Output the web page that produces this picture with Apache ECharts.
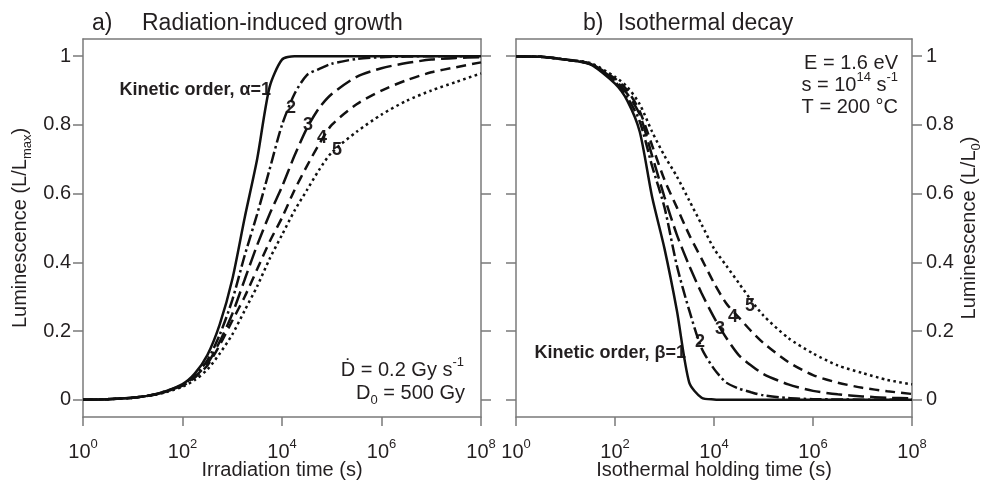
<!DOCTYPE html>
<html>
<head>
<meta charset="utf-8">
<title>Radiation-induced growth / Isothermal decay</title>
<script src="https://cdn.jsdelivr.net/npm/echarts@6.0.0/dist/echarts.min.js"></script>
<style>
  html, body { margin: 0; padding: 0; background: #fff; }
  #chart { width: 984px; height: 485px; }
</style>
</head>
<body>
<div id="chart"></div>
<script>
// log10 of time (s), shared by both panels
var logTime = [0, 0.5, 1, 1.5, 2, 2.25, 2.5, 2.75, 3, 3.25, 3.5, 3.75, 4, 4.25, 4.5, 4.75, 5, 5.5, 6, 6.5, 7, 7.5, 8];

// a) radiation-induced growth, L/Lmax, kinetic order alpha = 1..5
var growth1 = [0, 0.002, 0.006, 0.018, 0.046, 0.077, 0.13, 0.22, 0.35, 0.53, 0.70, 0.91, 0.99, 1, 1, 1, 1, 1, 1, 1, 1, 1, 1];
var growth2 = [0, 0.002, 0.006, 0.018, 0.044, 0.072, 0.115, 0.19, 0.29, 0.42, 0.54, 0.67, 0.80, 0.89, 0.945, 0.963, 0.978, 0.992, 0.997, 0.999, 1, 1, 1];
var growth3 = [0, 0.002, 0.006, 0.017, 0.042, 0.068, 0.105, 0.17, 0.25, 0.35, 0.45, 0.54, 0.62, 0.71, 0.79, 0.85, 0.89, 0.94, 0.965, 0.98, 0.99, 0.995, 0.997];
var growth4 = [0, 0.002, 0.006, 0.017, 0.041, 0.065, 0.10, 0.16, 0.23, 0.30, 0.38, 0.46, 0.53, 0.61, 0.68, 0.745, 0.80, 0.86, 0.90, 0.93, 0.953, 0.968, 0.982];
var growth5 = [0, 0.002, 0.006, 0.016, 0.038, 0.058, 0.088, 0.135, 0.19, 0.26, 0.33, 0.41, 0.48, 0.55, 0.61, 0.67, 0.72, 0.78, 0.83, 0.87, 0.90, 0.925, 0.95];

// b) isothermal decay, L/L0, kinetic order beta = 1..5
var decay1 = [1, 0.998, 0.99, 0.976, 0.92, 0.87, 0.78, 0.59, 0.44, 0.26, 0.05, 0.006, 0.001, 0, 0, 0, 0, 0, 0, 0, 0, 0, 0];
var decay2 = [1, 0.998, 0.99, 0.977, 0.925, 0.88, 0.81, 0.68, 0.56, 0.39, 0.26, 0.15, 0.09, 0.05, 0.033, 0.022, 0.013, 0.005, 0.002, 0.001, 0.0005, 0.0002, 0];
var decay3 = [1, 0.998, 0.99, 0.978, 0.93, 0.89, 0.83, 0.71, 0.59, 0.48, 0.39, 0.31, 0.24, 0.18, 0.13, 0.10, 0.075, 0.045, 0.026, 0.016, 0.01, 0.006, 0.004];
var decay4 = [1, 0.998, 0.99, 0.978, 0.935, 0.90, 0.84, 0.74, 0.64, 0.56, 0.48, 0.41, 0.34, 0.28, 0.24, 0.20, 0.165, 0.11, 0.072, 0.05, 0.035, 0.025, 0.017];
var decay5 = [1, 0.998, 0.99, 0.98, 0.94, 0.91, 0.86, 0.78, 0.71, 0.65, 0.58, 0.51, 0.44, 0.39, 0.34, 0.29, 0.245, 0.18, 0.135, 0.10, 0.078, 0.058, 0.045];

var xTickExponents = [0, 2, 4, 6, 8];
var yTicks = [0, 0.2, 0.4, 0.6, 0.8, 1];
var orderNames = ['1', '2', '3', '4', '5'];

var FONT = 'Liberation Sans, Arial, Helvetica, sans-serif';
var INK = '#231f20';
var FRAME = '#7a7a7a';
// solid, dash-dot, long dash, dash, dotted
var dashes = ['solid', [12, 3.5, 2.5, 3.5], [16, 6], [10, 6], [2.6, 3.4]];

var rich = {
  m: { fontSize: 20, lineHeight: 28, fontFamily: FONT, color: INK },
  sup: { fontSize: 13, lineHeight: 13, verticalAlign: 'top', fontFamily: FONT, color: INK },
  sub: { fontSize: 13, lineHeight: 13, verticalAlign: 'bottom', fontFamily: FONT, color: INK }
};

function curve(ys, i, panel) {
  return {
    type: 'line',
    name: (panel === 0 ? 'alpha=' : 'beta=') + orderNames[i],
    xAxisIndex: panel * 2,
    yAxisIndex: panel * 3,
    data: logTime.map(function (x, k) { return [x, ys[k]]; }),
    showSymbol: false,
    smooth: 0.25,
    silent: true,
    lineStyle: { color: '#111', width: 2.5, type: dashes[i], cap: 'butt' }
  };
}

function xAxisBottom(grid, name) {
  return {
    type: 'value', gridIndex: grid, position: 'bottom',
    min: 0, max: 8, interval: 2,
    name: name, nameLocation: 'middle', nameGap: 43, nameMoveOverlap: false,
    nameTextStyle: { fontSize: 20, fontFamily: FONT, color: INK },
    axisLine: { onZero: false, lineStyle: { color: FRAME, width: 1.5 } },
    axisTick: { length: 9, lineStyle: { color: FRAME, width: 1.5 }, customValues: xTickExponents },
    axisLabel: {
      margin: 21, customValues: xTickExponents,
      formatter: function (v) { return '{m|10}{sup|' + v + '}'; },
      rich: rich
    },
    splitLine: { show: false }
  };
}

function xAxisTop(grid) {
  return {
    type: 'value', gridIndex: grid, position: 'top', min: 0, max: 8,
    axisLine: { onZero: false, lineStyle: { color: FRAME, width: 1.5 } },
    axisTick: { show: false }, axisLabel: { show: false }, splitLine: { show: false }
  };
}

function yAxis(grid, side, labelled, name) {
  return {
    type: 'value', gridIndex: grid, position: side,
    min: -0.05, max: 1.05,
    name: labelled ? name : '', nameLocation: 'middle', nameRotate: 90,
    nameGap: side === 'left' ? 49 : 43, nameMoveOverlap: false,
    nameTextStyle: { rich: rich },
    axisLine: { show: true, onZero: false, lineStyle: { color: FRAME, width: 1.5 } },
    axisTick: { show: true, length: 10, lineStyle: { color: FRAME, width: 1.5 }, customValues: yTicks },
    axisLabel: {
      show: labelled, customValues: yTicks, margin: side === 'left' ? 12 : 14,
      fontSize: 20, fontFamily: FONT, color: INK
    },
    splitLine: { show: false }
  };
}

function text(x, y, str, align, bold, size) {
  return {
    type: 'text', x: x, y: y, silent: true,
    style: {
      text: str,
      fontSize: size || 20, fontWeight: bold ? 'bold' : 'normal', fontFamily: FONT,
      fill: INK,
      align: align, textAlign: align,
      verticalAlign: 'middle', textVerticalAlign: 'middle',
      rich: rich
    }
  };
}

var growth = [growth1, growth2, growth3, growth4, growth5];
var decay = [decay1, decay2, decay3, decay4, decay5];
var series = [];
growth.forEach(function (ys, i) { series.push(curve(ys, i, 0)); });
decay.forEach(function (ys, i) { series.push(curve(ys, i, 1)); });

var chart = echarts.init(document.getElementById('chart'));
chart.setOption({
  animation: false,
  backgroundColor: '#fff',
  grid: [
    { left: 83, right: 503, top: 39, bottom: 68 },
    { left: 516, right: 69, top: 39, bottom: 68 }
  ],
  xAxis: [
    xAxisBottom(0, 'Irradiation time (s)'), xAxisTop(0),
    xAxisBottom(1, 'Isothermal holding time (s)'), xAxisTop(1)
  ],
  yAxis: [
    yAxis(0, 'left', true, '{m|Luminescence (L/L}{sub|max}{m|)}'),
    yAxis(0, 'right', false),
    yAxis(1, 'left', false),
    yAxis(1, 'right', true, '{m|Luminescence (L/L}{sub|0}{m|)}')
  ],
  series: series,
  graphic: [
    text(92, 24, 'a)', 'left', false, 23),
    text(142, 24, 'Radiation-induced growth', 'left', false, 23),
    text(583, 24, 'b)', 'left', false, 23),
    text(618, 24, 'Isothermal decay', 'left', false, 23),

    text(271, 90, 'Kinetic order, α=1', 'right', true, 18),
    text(291, 108, '2', 'center', true, 18),
    text(308, 125, '3', 'center', true, 18),
    text(322, 138, '4', 'center', true, 18),
    text(337, 150, '5', 'center', true, 18),

    text(686, 353, 'Kinetic order, β=1', 'right', true, 18),
    text(700, 342, '2', 'center', true, 18),
    text(720, 329, '3', 'center', true, 18),
    text(733, 317, '4', 'center', true, 18),
    text(750, 306, '5', 'center', true, 18),

    text(464, 370, '{m|Ḋ = 0.2 Gy s}{sup|-1}', 'right'),
    text(465, 393, '{m|D}{sub|0}{m| = 500 Gy}', 'right'),

    text(898, 63, '{m|E = 1.6 eV}', 'right'),
    text(898, 85, '{m|s = 10}{sup|14}{m| s}{sup|-1}', 'right'),
    text(898, 107, '{m|T = 200 °C}', 'right')
  ]
});
</script>
</body>
</html>
